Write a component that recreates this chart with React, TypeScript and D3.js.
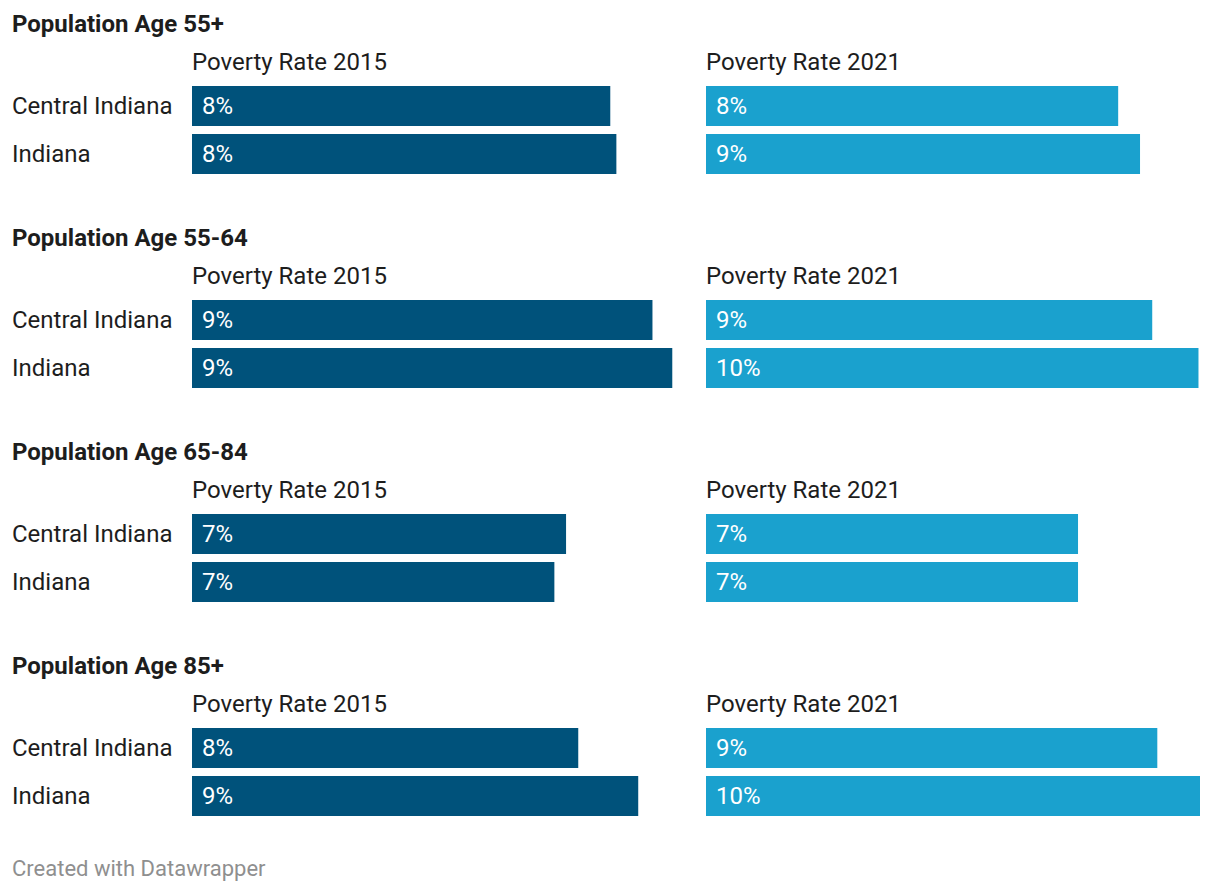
import React from "react";
import * as d3 from "d3";

const groups = ["Population Age 55+", "Population Age 55-64", "Population Age 65-84", "Population Age 85+"];
const regions = ["Central Indiana", "Indiana"];
const columns = ["Poverty Rate 2015", "Poverty Rate 2021"];
// values in percent, [group][region]
const rate2015 = [
  [8.23, 8.35],
  [9.06, 9.45],
  [7.36, 7.13],
  [7.6, 8.78],
];
const rate2021 = [
  [8.11, 8.54],
  [8.78, 9.69],
  [7.32, 7.32],
  [8.88, 9.72],
];
const colors = ["#00527b", "#1aa1ce"];

export default function App() {
  const W = 1220;
  const H = 892;
  const colX = [192, 706];
  const x = d3.scaleLinear().domain([0, 9.72]).range([0, 494]);
  const groupY = d3.scaleLinear().domain([0, 1]).range([0, 214]);
  const barH = 40;
  const rowStep = 48;
  const series = [rate2015, rate2021];
  const font = "Roboto, 'Noto Sans', sans-serif";

  return (
    <svg width={W} height={H} style={{ position: "absolute", left: 0, top: 0, background: "#fff" }} fontFamily={font}>
      {groups.map((g, gi) => {
        const y0 = groupY(gi);
        return (
          <g key={g} transform={`translate(0,${y0})`}>
            <text x={12} y={24} dy="0.35em" fontSize={24} fontWeight={700} fill="#1d1d1d">{g}</text>
            {columns.map((c, ci) => (
              <text key={c} x={colX[ci]} y={62} dy="0.35em" fontSize={24} fill="#1d1d1d">{c}</text>
            ))}
            {regions.map((r, ri) => {
              const by = 86 + ri * rowStep;
              return (
                <g key={r}>
                  <text x={12} y={by + barH / 2} dy="0.35em" fontSize={24} fill="#1d1d1d">{r}</text>
                  {series.map((s, si) => (
                    <g key={si}>
                      <rect x={colX[si]} y={by} width={x(s[gi][ri])} height={barH} fill={colors[si]} />
                      <text x={colX[si] + 10} y={by + barH / 2} dy="0.35em" fontSize={24} fill="#fff">
                        {`${Math.round(s[gi][ri])}%`}
                      </text>
                    </g>
                  ))}
                </g>
              );
            })}
          </g>
        );
      })}
      <text x={12} y={868} dy="0.35em" fontSize={22} fill="#8f8f8f">Created with Datawrapper</text>
    </svg>
  );
}
